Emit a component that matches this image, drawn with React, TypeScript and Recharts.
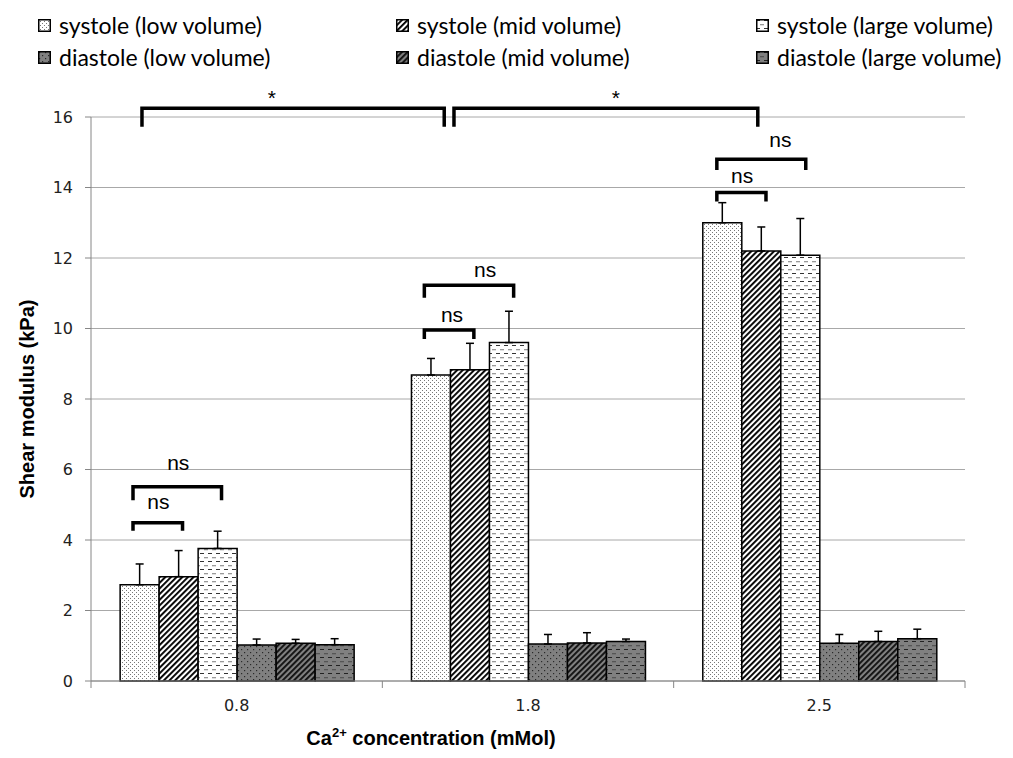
import React from "react";
import { BarChart, Bar, XAxis, YAxis, CartesianGrid, ErrorBar, Rectangle } from "recharts";

// ---- data ----
const categories = ["0.8", "1.8", "2.5"];

const sysLow = [2.73, 8.68, 13.0];
const sysLowErr = [0.59, 0.47, 0.57];
const sysMid = [2.96, 8.83, 12.2];
const sysMidErr = [0.74, 0.75, 0.68];
const sysLarge = [3.76, 9.6, 12.08];
const sysLargeErr = [0.49, 0.89, 1.04];
const diaLow = [1.02, 1.05, 1.07];
const diaLowErr = [0.17, 0.27, 0.25];
const diaMid = [1.07, 1.08, 1.12];
const diaMidErr = [0.11, 0.29, 0.29];
const diaLarge = [1.03, 1.12, 1.2];
const diaLargeErr = [0.17, 0.07, 0.27];

const yTicks = [0, 2, 4, 6, 8, 10, 12, 14, 16];

// significance brackets: ends given as [group, bar widths from the group's first bar]
const brackets = [
  { from: [0, 0.33], to: [0, 1.6], y: 4.49, leg: 0.23, text: "ns", textAt: [0, 0.98], textY: 5.08 },
  { from: [0, 0.33], to: [0, 2.6], y: 5.51, leg: 0.38, text: "ns", textAt: [0, 1.49], textY: 6.21 },
  { from: [1, 0.33], to: [1, 1.6], y: 9.96, leg: 0.26, text: "ns", textAt: [1, 1.04], textY: 10.41 },
  { from: [1, 0.33], to: [1, 2.62], y: 11.23, leg: 0.36, text: "ns", textAt: [1, 1.89], textY: 11.66 },
  { from: [2, 0.36], to: [2, 1.62], y: 13.86, leg: 0.26, text: "ns", textAt: [2, 1.01], textY: 14.35 },
  { from: [2, 0.36], to: [2, 2.64], y: 14.8, leg: 0.3, text: "ns", textAt: [2, 1.99], textY: 15.35 },
  { from: [0, 0.56], to: [1, 0.84], y: 16.25, leg: 0.53, text: "*", textAt: [0, 3.89], textY: 16.55 },
  { from: [1, 1.09], to: [2, 1.41], y: 16.25, leg: 0.53, text: "*", textAt: [1, 5.24], textY: 16.55 },
];

const series = [
  { key: "sysLow", name: "systole (low volume)", fill: "url(#pSysLow)" },
  { key: "sysMid", name: "systole (mid volume)", fill: "url(#pSysMid)" },
  { key: "sysLarge", name: "systole (large volume)", fill: "url(#pSysLarge)" },
  { key: "diaLow", name: "diastole (low volume)", fill: "url(#pDiaLow)" },
  { key: "diaMid", name: "diastole (mid volume)", fill: "url(#pDiaMid)" },
  { key: "diaLarge", name: "diastole (large volume)", fill: "url(#pDiaLarge)" },
];

const data = categories.map((cat, i) => ({
  cat,
  sysLow: sysLow[i],
  sysLowE: [0, sysLowErr[i]],
  sysMid: sysMid[i],
  sysMidE: [0, sysMidErr[i]],
  sysLarge: sysLarge[i],
  sysLargeE: [0, sysLargeErr[i]],
  diaLow: diaLow[i],
  diaLowE: [0, diaLowErr[i]],
  diaMid: diaMid[i],
  diaMidE: [0, diaMidErr[i]],
  diaLarge: diaLarge[i],
  diaLargeE: [0, diaLargeErr[i]],
}));

const AXIS = "#868686";
const TICK_FONT = "DejaVu Sans, Verdana, sans-serif";
const ARIAL = "Liberation Sans, Arial, sans-serif";

function XTick(props: any) {
  const { x, y, payload, index } = props;
  const half = payload?.offset || 145.67;
  const top = y - 8;
  return (
    <g>
      <line x1={x - half} y1={top} x2={x - half} y2={top + 7} stroke={AXIS} />
      {index === categories.length - 1 && (
        <line x1={x + half} y1={top} x2={x + half} y2={top + 7} stroke={AXIS} />
      )}
      <text x={x} y={y + 22} textAnchor="middle" fontSize={16} fontFamily={TICK_FONT} fill="#222">
        {payload.value}
      </text>
    </g>
  );
}

function Patterns() {
  return (
    <defs>
      <pattern id="pSysLow" width="4" height="4" patternUnits="userSpaceOnUse">
        <rect width="4" height="4" fill="#fff" />
        <rect x="0" y="0" width="1" height="1" fill="#777" />
        <rect x="2" y="2" width="1" height="1" fill="#777" />
      </pattern>
      <pattern id="pSysMid" width="4" height="4" patternUnits="userSpaceOnUse" patternTransform="rotate(45)">
        <rect width="4" height="4" fill="#fff" />
        <rect width="1.9" height="4" fill="#000" />
      </pattern>
      <pattern id="pSysLarge" width="8" height="8" patternUnits="userSpaceOnUse">
        <rect width="8" height="8" fill="#fff" />
        <rect x="0" y="1" width="4" height="1" fill="#333" />
        <rect x="4" y="5" width="4" height="1.3" fill="#999" />
      </pattern>
      <pattern id="pDiaLow" width="6" height="6" patternUnits="userSpaceOnUse">
        <rect width="6" height="6" fill="#808080" />
        <rect x="1" y="1" width="1.2" height="1.2" fill="#2a2a2a" />
        <rect x="4" y="4" width="1.2" height="1.2" fill="#2a2a2a" />
      </pattern>
      <pattern id="pDiaMid" width="4" height="4" patternUnits="userSpaceOnUse" patternTransform="rotate(45)">
        <rect width="4" height="4" fill="#808080" />
        <rect width="1.9" height="4" fill="#111" />
      </pattern>
      <pattern id="pDiaLarge" width="8" height="8" patternUnits="userSpaceOnUse">
        <rect width="8" height="8" fill="#808080" />
        <rect x="0" y="1" width="4" height="1" fill="#222" />
        <rect x="4" y="5" width="4" height="1.3" fill="#555" />
      </pattern>
    </defs>
  );
}

const legendCols = [38, 396, 756];
const legendRows = [25, 57];

export default function App() {
  // left edge of the first bar in each group, filled in as the first series renders
  const groupX: number[] = [];

  const firstBarShape = (props: any) => {
    const { x, y, width, height, value, index } = props;
    groupX[index] = x;
    const rect = <Rectangle {...props} />;
    if (index !== categories.length - 1) return rect;

    // y scale taken from this bar: baseline and pixels per unit
    const base = y + height;
    const k = height / value;
    const toY = (v: number) => base - v * k;
    const toX = (p: number[]) => groupX[p[0]] + p[1] * width;

    return (
      <g>
        {rect}
        {brackets.map((b, i) => {
          const x1 = toX(b.from);
          const x2 = toX(b.to);
          const yTop = toY(b.y);
          const yLeg = toY(b.y - b.leg);
          return (
            <g key={i}>
              <path
                d={`M${x1},${yLeg}L${x1},${yTop}L${x2},${yTop}L${x2},${yLeg}`}
                fill="none"
                stroke="#000"
                strokeWidth={3.5}
                strokeLinejoin="miter"
              />
              <text
                x={toX(b.textAt)}
                y={toY(b.textY)}
                textAnchor="middle"
                dominantBaseline="central"
                fontSize={21}
                fontFamily={ARIAL}
                fill="#000"
              >
                {b.text}
              </text>
            </g>
          );
        })}
      </g>
    );
  };

  return (
    <div style={{ position: "absolute", left: 0, top: 0, width: 1013, height: 758, background: "#fff" }}>
      {series.map((s, i) => (
        <div
          key={s.key}
          style={{
            position: "absolute",
            left: legendCols[i % 3],
            top: legendRows[Math.floor(i / 3)] - 14,
            height: 28,
            display: "flex",
            alignItems: "center",
            fontFamily: "Lato, sans-serif",
            fontSize: 23,
            color: "#000",
            whiteSpace: "nowrap",
          }}
        >
          <svg width={13} height={13} style={{ marginRight: 8 }}>
            <rect x={0.75} y={0.75} width={11.5} height={11.5} fill={s.fill} stroke="#000" strokeWidth={1.5} />
          </svg>
          {s.name}
        </div>
      ))}

      <div
        style={{
          position: "absolute",
          left: 27,
          top: 399,
          transform: "translate(-50%, -50%) rotate(-90deg)",
          fontFamily: ARIAL,
          fontWeight: "bold",
          fontSize: 20,
          whiteSpace: "nowrap",
        }}
      >
        Shear modulus (kPa)
      </div>

      <div
        style={{
          position: "absolute",
          left: 431,
          top: 738,
          transform: "translate(-50%, -50%)",
          fontFamily: ARIAL,
          fontWeight: "bold",
          fontSize: 20,
          whiteSpace: "nowrap",
        }}
      >
        Ca<sup style={{ fontSize: "0.65em", verticalAlign: "0.55em", lineHeight: 0 }}>2+</sup> concentration (mMol)
      </div>

      <div style={{ position: "absolute", left: 0, top: 0 }}>
        <BarChart
          width={1013}
          height={758}
          data={data}
          margin={{ top: 117, right: 48, bottom: 47, left: 31 }}
          barCategoryGap="10%"
          barGap={0}
        >
          <Patterns />
          <CartesianGrid vertical={false} stroke="#a8a8a8" />
          <XAxis dataKey="cat" height={30} tickLine={false} stroke={AXIS} tick={<XTick />} interval={0} />
          <YAxis
            domain={[0, 16]}
            ticks={yTicks}
            interval={0}
            width={60}
            tickSize={6}
            tickMargin={12}
            stroke={AXIS}
            tick={{ fontSize: 16, fill: "#222", fontFamily: TICK_FONT }}
          />
          {series.map((s, si) => (
            <Bar
              key={s.key}
              dataKey={s.key}
              name={s.name}
              fill={s.fill}
              stroke="#000"
              strokeWidth={1.5}
              isAnimationActive={false}
              shape={si === 0 ? firstBarShape : undefined}
            >
              <ErrorBar
                dataKey={`${s.key}E`}
                width={4}
                stroke="#000"
                strokeWidth={1.5}
                direction="y"
                isAnimationActive={false}
              />
            </Bar>
          ))}
        </BarChart>
      </div>
    </div>
  );
}
